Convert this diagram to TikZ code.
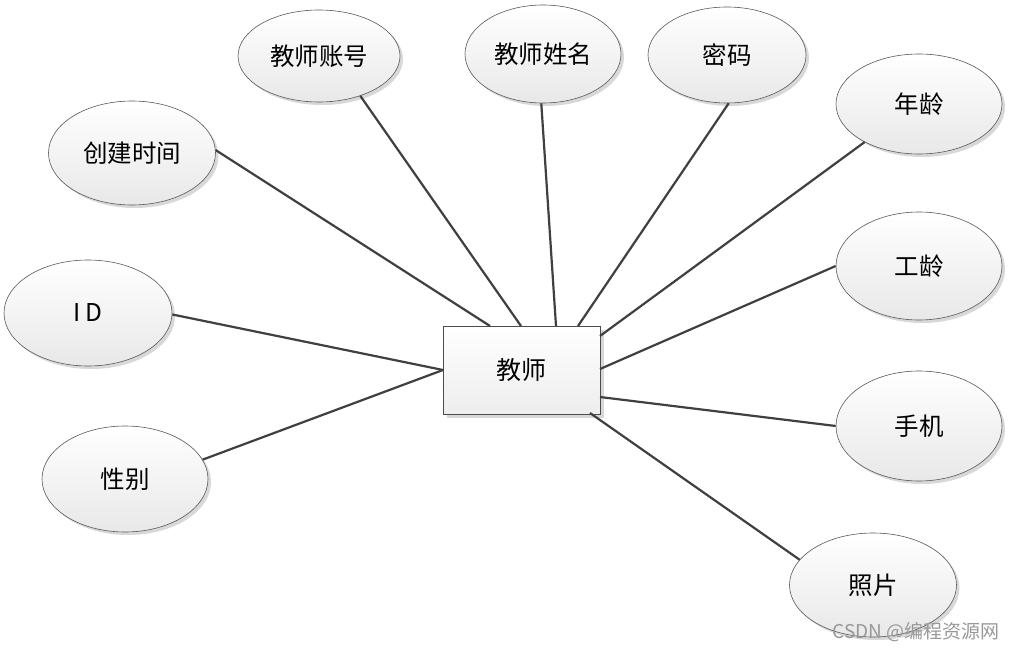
\documentclass[tikz,border=0pt]{standalone}
\usepackage{fontspec}
\setmainfont{Noto Sans CJK SC}
\usetikzlibrary{shapes.geometric,shadows}
\begin{document}
\begin{tikzpicture}[x=1pt,y=-1pt,
  attr/.style={ellipse, draw=black!65, line width=0.6pt, top color=white, bottom color=black!9,
     drop shadow={shadow xshift=3pt, shadow yshift=-3pt, fill=black!25, opacity=0.6},
     font=\fontsize{24.5}{27}\selectfont, inner sep=0pt},
  ent/.style={rectangle, draw=black!70, line width=0.8pt, top color=white, bottom color=black!7,
     drop shadow={shadow xshift=4pt, shadow yshift=-4pt, fill=black!25, opacity=0.6},
     minimum width=157pt, minimum height=88pt, font=\fontsize{25}{27}\selectfont, inner sep=0pt},
  conn/.style={draw=black!75, line width=2.2pt}]
\useasboundingbox (0,0) rectangle (1012,650);
\path[fill=white] (0,0) rectangle (1012,650);
\node[attr, minimum width=162pt, minimum height=92pt] (zh) at (319,56) {教师账号};
\node[attr, minimum width=156pt, minimum height=98pt] (xm) at (543,54) {教师姓名};
\node[attr, minimum width=158pt, minimum height=96pt] (mm) at (727,55) {密码};
\node[attr, minimum width=166pt, minimum height=100pt] (nl) at (919,104) {年龄};
\node[attr, minimum width=167pt, minimum height=104pt] (sj) at (132,153) {创建时间};
\node[attr, minimum width=166pt, minimum height=108pt] (gl) at (919,266) {工龄};
\node[attr, minimum width=168pt, minimum height=106pt] (id) at (88,313) {I\,D};
\node[attr, minimum width=166pt, minimum height=110pt] (sjh) at (919,426) {手机};
\node[attr, minimum width=166pt, minimum height=106pt] (xb) at (125,479) {性别};
\node[attr, minimum width=167pt, minimum height=104pt] (zp) at (873,585) {照片};
\node[ent] (js) at (521.5,370) {教师};
\coordinate (p1) at (490,326);
\coordinate (p2) at (521,326);
\coordinate (p3) at (556,326);
\coordinate (p4) at (578,326);
\coordinate (p5) at (600,336);
\coordinate (p6) at (600,369);
\coordinate (p7) at (600,397);
\coordinate (p8) at (590,413);
\coordinate (p9) at (443,370);
\draw[conn] (sj.2) -- (p1);
\draw[conn] (zh.-44) -- (p2);
\draw[conn] (xm.-92) -- (p3);
\draw[conn] (mm.-88) -- (p4);
\draw[conn] (nl.215) -- (p5);
\draw[conn] (gl.180) -- (p6);
\draw[conn] (sjh.180) -- (p7);
\draw[conn] (zp.161) -- (p8);
\draw[conn] (id.-1) -- (p9);
\draw[conn] (xb.14) -- (p9);
\node[anchor=east, text=black!40, font=\fontsize{19}{21}\selectfont, inner sep=0pt] (wm) at (1000,632) {CSDN @编程资源网};
\end{tikzpicture}
\end{document}
